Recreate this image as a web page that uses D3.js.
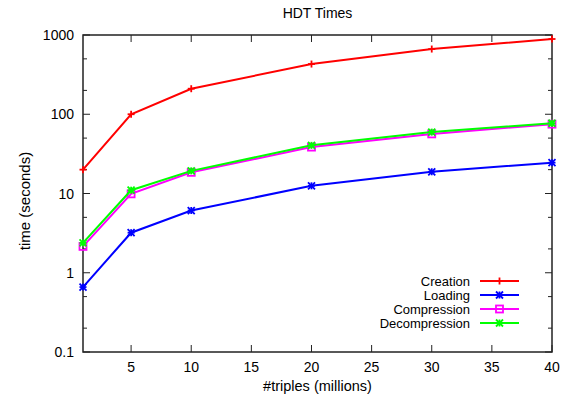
<!DOCTYPE html>
<html>
<head>
<meta charset="utf-8">
<script src="https://cdn.jsdelivr.net/npm/d3@7"></script>
<style>
  body { margin: 0; background: #fff; }
  text { font-family: "Liberation Sans", Arial, sans-serif; fill: #000; }
</style>
</head>
<body>
<svg id="chart" width="566" height="404"></svg>
<script>
// data (x in millions of triples, y in seconds)
const triples = [1, 5, 10, 20, 30, 40];
const creation = [20, 100, 210, 430, 665, 890];
const loading = [0.66, 3.2, 6.1, 12.5, 18.8, 24.5];
const compression = [2.15, 9.9, 18.5, 38.5, 56.5, 75];
const decompression = [2.38, 11, 19.3, 40.5, 59.5, 77];

const seriesNames = ['Creation', 'Loading', 'Compression', 'Decompression'];
const seriesColors = ['#ff0000', '#0000ff', '#ff00ff', '#00ff00'];
const seriesMarks = ['plus', 'star', 'square', 'star'];
const seriesValues = [creation, loading, compression, decompression];

const xTicks = [5, 10, 15, 20, 25, 30, 35, 40];
const yTicks = [0.1, 1, 10, 100, 1000];

const margin = { top: 35, right: 14, bottom: 52, left: 83 };
const width = 566 - margin.left - margin.right;
const height = 404 - margin.top - margin.bottom;

const svg = d3.select('#chart');
const g = svg.append('g').attr('transform', `translate(${margin.left},${margin.top})`);

const x = d3.scaleLinear().domain([1, 40]).range([0, width]);
const y = d3.scaleLog().domain([0.1, 1000]).range([height, 0]);

// minor ticks at 2 and 5 of every decade
const minor = [];
[0.1, 1, 10, 100].forEach(d => { minor.push(d * 2, d * 5); });

const tickLen = 7, minorLen = 4;
const ticks = g.append('g').attr('stroke', '#222').attr('stroke-width', 1);

xTicks.forEach(t => {
  ticks.append('line').attr('x1', x(t)).attr('x2', x(t)).attr('y1', height).attr('y2', height - tickLen);
  ticks.append('line').attr('x1', x(t)).attr('x2', x(t)).attr('y1', 0).attr('y2', tickLen);
});
yTicks.forEach(t => {
  ticks.append('line').attr('x1', 0).attr('x2', tickLen).attr('y1', y(t)).attr('y2', y(t));
  ticks.append('line').attr('x1', width).attr('x2', width - tickLen).attr('y1', y(t)).attr('y2', y(t));
});
minor.forEach(t => {
  ticks.append('line').attr('x1', 0).attr('x2', minorLen).attr('y1', y(t)).attr('y2', y(t));
  ticks.append('line').attr('x1', width).attr('x2', width - minorLen).attr('y1', y(t)).attr('y2', y(t));
});

// tick labels
g.selectAll('.xl').data(xTicks).enter().append('text')
  .attr('x', d => x(d)).attr('y', height + 20)
  .attr('text-anchor', 'middle').attr('font-size', 14)
  .text(d => d);

g.selectAll('.yl').data(yTicks).enter().append('text')
  .attr('x', -9).attr('y', d => y(d) + 5)
  .attr('text-anchor', 'end').attr('font-size', 14)
  .text(d => d);

// frame
g.append('rect').attr('width', width).attr('height', height)
  .attr('fill', 'none').attr('stroke', '#222').attr('stroke-width', 1.5);

function drawMark(sel, type, cx, cy, color) {
  const s = 3.5;
  const m = sel.append('g').attr('transform', `translate(${cx},${cy})`)
    .attr('stroke', color).attr('stroke-width', 1.8).attr('fill', 'none');
  if (type === 'plus' || type === 'star') {
    m.append('line').attr('x1', -s).attr('x2', s).attr('y1', 0).attr('y2', 0);
    m.append('line').attr('x1', 0).attr('x2', 0).attr('y1', -s).attr('y2', s);
  }
  if (type === 'star') {
    m.append('line').attr('x1', -s).attr('x2', s).attr('y1', -s).attr('y2', s);
    m.append('line').attr('x1', -s).attr('x2', s).attr('y1', s).attr('y2', -s);
  }
  if (type === 'square') {
    m.append('rect').attr('x', -s).attr('y', -s).attr('width', 2 * s).attr('height', 2 * s);
  }
}

const line = d3.line().x(d => x(d[0])).y(d => y(d[1]));

seriesValues.forEach((vals, i) => {
  const pts = triples.map((t, j) => [t, vals[j]]);
  g.append('path').datum(pts)
    .attr('d', line).attr('fill', 'none')
    .attr('stroke', seriesColors[i]).attr('stroke-width', 2);
  pts.forEach(p => drawMark(g, seriesMarks[i], x(p[0]), y(p[1]), seriesColors[i]));
});

// legend
const legend = svg.append('g');
seriesNames.forEach((name, i) => {
  const ly = 281 + i * 14;
  legend.append('text').attr('x', 470).attr('y', ly + 4.5)
    .attr('text-anchor', 'end').attr('font-size', 13).text(name);
  legend.append('line').attr('x1', 480).attr('x2', 519).attr('y1', ly).attr('y2', ly)
    .attr('stroke', seriesColors[i]).attr('stroke-width', 2);
  drawMark(legend, seriesMarks[i], 499.5, ly, seriesColors[i]);
});

// titles
svg.append('text').attr('x', 317.5).attr('y', 18)
  .attr('text-anchor', 'middle').attr('font-size', 14).text('HDT Times');
svg.append('text').attr('x', 317.5).attr('y', 391)
  .attr('text-anchor', 'middle').attr('font-size', 14.5).text('#triples (millions)');
svg.append('text').attr('transform', 'translate(30,201) rotate(-90)')
  .attr('text-anchor', 'middle').attr('font-size', 15).text('time (seconds)');
</script>
</body>
</html>
